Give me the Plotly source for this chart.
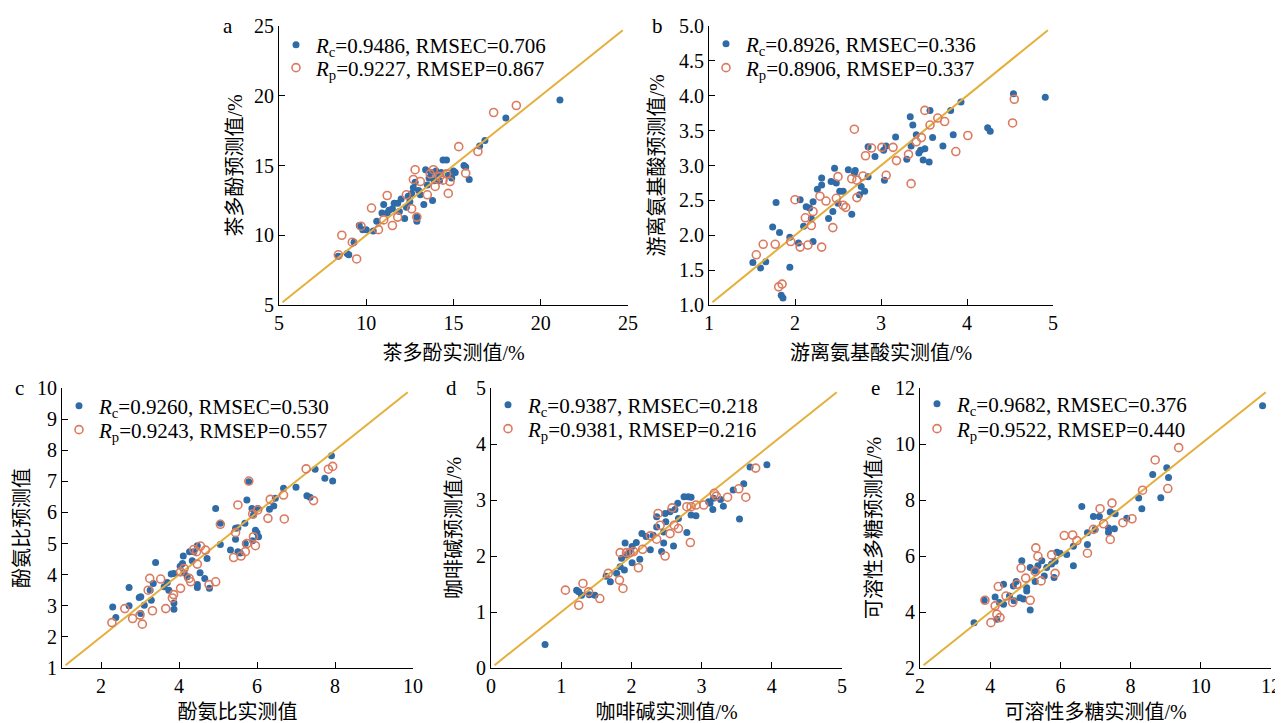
import plotly.graph_objects as go

# page is 1283x723; the html body adds an 8px margin, so the figure is drawn 8px in
PAGE_W, PAGE_H, OFF = 1283, 723, 8
W, H = PAGE_W - OFF, PAGE_H - OFF

# ---------------- data ----------------
# a: 茶多酚
a_cal_x = [8.4, 8.9, 9.0, 9.3, 9.6, 9.8, 10.0, 10.4, 10.6, 10.9, 11.0, 11.2, 11.3, 11.5, 11.6, 11.8, 11.9, 12.0,
           12.2, 12.3, 12.4, 12.5, 12.6, 12.7, 12.8, 12.9, 12.9, 13.0, 13.1, 13.3, 13.4, 13.5, 13.6, 13.7, 13.8,
           13.9, 14.0, 14.1, 14.2, 14.3, 14.4, 14.6, 14.7, 14.9, 15.0, 15.1, 15.6, 15.7, 15.9, 16.5, 16.8, 18.0, 21.1]
a_cal_y = [8.5, 8.7, 8.6, 9.5, 10.7, 10.4, 10.4, 10.3, 11.0, 11.6, 12.2, 11.6, 11.8, 11.9, 12.3, 12.3, 11.7, 12.6,
           11.2, 12.0, 12.8, 12.4, 13.0, 13.4, 13.8, 11.3, 11.0, 13.2, 12.9, 12.2, 14.7, 13.6, 14.1, 14.5, 12.5,
           13.9, 14.6, 14.2, 13.9, 14.5, 15.4, 15.4, 14.3, 14.1, 14.6, 14.5, 15.0, 14.9, 14.0, 16.4, 16.8, 18.4, 19.7]
a_val_x = [18.6, 17.3, 15.3, 16.4, 15.7, 14.7, 12.8, 12.7, 13.85, 13.66, 14.8, 14.4, 13.5, 11.2, 12.3, 10.3, 12.6,
           12.9, 11.0, 11.8, 11.5, 10.7, 9.7, 8.6, 9.2, 8.4, 9.45, 13.95, 14.2, 14.6, 13.1]
a_val_y = [19.3, 18.8, 16.35, 16.0, 14.45, 13.0, 14.7, 14.0, 14.7, 14.4, 13.85, 13.95, 12.9, 12.85, 12.9, 11.95, 11.9,
           11.3, 11.1, 11.3, 10.7, 10.4, 10.65, 10.0, 9.5, 8.6, 8.3, 13.5, 14.2, 14.4, 13.85]

# b: 游离氨基酸
b_cal_x = [4.54, 4.91, 3.93, 3.81, 3.57, 3.34, 3.37, 3.41, 3.84, 3.60, 4.24, 4.27, 3.72, 3.17, 3.35, 3.46, 3.51,
           3.44, 3.49, 3.56, 3.30, 3.06, 3.03, 3.04, 2.93, 2.85, 2.85, 2.77, 2.81, 2.75, 2.70, 2.69, 2.62, 2.66,
           2.46, 2.42, 2.48, 2.52, 2.56, 2.50, 2.44, 2.31, 2.31, 2.26, 2.39, 2.21, 2.13, 2.17, 2.19, 2.10, 2.06,
           2.21, 2.04, 1.94, 1.94, 1.78, 1.82, 1.74, 1.66, 1.60, 1.51, 1.84, 1.86]
b_cal_y = [4.03, 3.98, 3.91, 3.79, 3.79, 3.70, 3.58, 3.44, 3.44, 3.40, 3.54, 3.49, 3.28, 3.41, 3.28, 3.22, 3.24,
           3.18, 3.08, 3.05, 3.09, 3.28, 3.22, 2.79, 3.13, 3.27, 2.84, 2.70, 2.63, 2.58, 2.93, 2.89, 2.94, 2.30,
           2.96, 2.77, 2.75, 2.63, 2.63, 2.46, 2.34, 2.82, 2.72, 2.66, 2.24, 2.48, 2.41, 2.39, 2.24, 2.13, 2.51,
           1.91, 1.89, 1.97, 1.54, 2.47, 2.04, 2.12, 1.62, 1.53, 1.61, 1.14, 1.10]
b_val_x = [4.55, 4.53, 4.01, 3.87, 3.51, 3.66, 3.74, 3.57, 3.47, 3.41, 3.35, 3.32, 3.18, 3.14, 3.01, 3.06, 2.89,
           2.82, 2.79, 2.69, 2.66, 2.72, 2.72, 2.50, 2.48, 2.56, 2.59, 2.36, 2.29, 2.21, 2.19, 2.12, 2.44, 2.00,
           1.95, 2.06, 2.15, 2.31, 1.77, 1.63, 1.55, 1.81, 1.85]
b_val_y = [3.95, 3.61, 3.43, 3.20, 3.79, 3.68, 3.63, 3.58, 3.40, 3.34, 2.74, 3.16, 3.07, 3.26, 3.26, 2.86, 3.25,
           3.14, 2.85, 3.52, 2.81, 2.79, 2.54, 2.84, 2.53, 2.43, 2.40, 2.49, 2.56, 2.34, 2.14, 2.25, 2.11, 2.51,
           1.91, 1.83, 1.86, 1.83, 1.87, 1.87, 1.72, 1.26, 1.30]

# c: 酚氨比
c_cal_x = [7.91, 7.49, 7.74, 7.94, 7.28, 7.36, 7.00, 6.68, 6.47, 6.43, 6.32, 6.02, 5.87, 5.74, 5.79, 5.91, 5.96,
           6.04, 6.00, 5.69, 5.51, 5.45, 5.45, 5.70, 5.89, 5.32, 5.51, 5.57, 5.06, 4.94, 5.06, 4.72, 4.78, 4.66,
           4.54, 4.47, 4.47, 4.47, 4.38, 4.27, 4.34, 4.11, 4.09, 4.03, 4.13, 4.21, 3.87, 3.80, 3.70, 3.74, 3.87,
           3.87, 3.62, 3.40, 3.34, 3.26, 3.29, 3.11, 3.02, 2.98, 3.02, 2.72, 2.72, 2.30, 2.38]
c_cal_y = [7.82, 7.39, 7.10, 7.01, 6.54, 6.49, 6.81, 6.78, 6.46, 6.21, 6.10, 6.13, 6.13, 6.40, 6.99, 5.92, 5.43,
           5.22, 5.35, 5.65, 5.51, 5.49, 5.14, 5.00, 5.09, 4.79, 4.74, 4.70, 4.97, 6.13, 5.65, 4.52, 3.56, 3.88,
           4.06, 3.59, 3.68, 4.93, 4.74, 4.74, 4.45, 4.60, 4.36, 4.27, 4.06, 3.93, 4.04, 4.02, 3.75, 3.50, 3.09,
           2.89, 3.61, 4.39, 3.72, 3.50, 3.18, 3.02, 2.75, 3.27, 3.29, 3.59, 3.00, 2.96, 2.62]
c_val_x = [7.94, 7.83, 7.26, 7.45, 6.68, 6.34, 6.70, 6.28, 6.02, 5.89, 5.79, 5.51, 5.91, 5.96, 5.74, 5.70, 5.59,
           5.40, 5.45, 5.06, 4.94, 4.77, 4.68, 4.55, 4.45, 4.38, 4.47, 4.30, 4.26, 4.13, 4.04, 4.04, 3.86, 3.83,
           3.66, 3.53, 3.25, 3.21, 3.32, 3.06, 3.00, 2.81, 2.61, 2.28]
c_val_y = [7.48, 7.39, 7.40, 6.38, 6.56, 6.42, 5.79, 5.81, 6.08, 5.95, 7.01, 6.24, 5.22, 4.93, 5.00, 4.74, 4.60,
           4.55, 5.35, 5.62, 3.77, 3.68, 4.79, 4.92, 4.74, 4.81, 4.34, 3.77, 3.88, 4.20, 4.09, 3.56, 3.36, 3.25,
           2.91, 3.86, 3.88, 3.50, 2.84, 2.41, 2.70, 2.59, 2.91, 2.46]

# d: 咖啡碱
d_cal_x = [3.93, 3.69, 3.60, 3.45, 3.54, 3.31, 3.27, 3.17, 3.12, 3.16, 3.10, 2.92, 2.85, 2.85, 2.81, 2.75, 2.79,
           2.66, 2.62, 2.67, 2.55, 2.60, 2.48, 2.49, 2.46, 2.46, 2.43, 2.36, 2.36, 2.31, 2.21, 2.27, 2.15, 2.12,
           2.07, 2.01, 1.97, 2.01, 1.91, 1.93, 1.86, 1.84, 1.90, 1.79, 1.64, 1.70, 1.48, 1.40, 1.29, 1.22, 1.25, 0.77]
d_cal_y = [3.63, 3.59, 3.29, 3.18, 2.66, 2.89, 3.01, 3.03, 2.94, 2.83, 2.97, 2.72, 2.73, 3.05, 3.06, 3.06, 2.42,
           2.94, 2.83, 2.67, 2.79, 2.18, 2.76, 2.61, 2.43, 2.23, 2.08, 2.70, 2.52, 2.37, 2.35, 2.11, 2.40, 1.94,
           2.24, 2.17, 2.08, 1.88, 2.23, 2.02, 1.96, 1.81, 1.75, 1.69, 1.64, 1.54, 1.30, 1.31, 1.30, 1.39, 1.36, 0.42]
d_val_x = [3.77, 3.53, 3.63, 3.37, 3.18, 3.21, 3.03, 2.92, 2.85, 2.79, 2.84, 2.58, 2.67, 2.61, 2.41, 2.38, 2.55,
           2.48, 2.36, 2.27, 2.16, 2.10, 2.03, 1.98, 1.93, 1.84, 1.83, 1.88, 1.67, 1.55, 1.39, 1.31, 1.06, 1.25]
d_val_y = [3.57, 3.20, 3.05, 3.05, 3.12, 3.07, 2.91, 2.91, 2.88, 2.88, 2.24, 2.86, 2.49, 2.55, 2.55, 2.76, 2.40,
           2.00, 2.30, 2.36, 2.12, 1.79, 2.08, 2.06, 2.06, 2.06, 1.57, 1.42, 1.69, 1.24, 1.36, 1.51, 1.39, 1.12]

# e: 可溶性多糖
e_cal_x = [11.76, 9.03, 9.08, 8.63, 8.86, 8.23, 8.32, 7.89, 7.56, 7.42, 7.54, 7.37, 7.37, 7.11, 6.94, 6.61, 6.99,
           6.77, 6.77, 6.37, 6.37, 6.18, 5.90, 5.99, 5.85, 5.82, 5.75, 5.61, 5.54, 5.47, 5.36, 5.28, 5.28, 5.14,
           5.04, 5.04, 5.14, 4.90, 4.95, 4.85, 4.74, 4.66, 4.68, 4.55, 4.38, 4.38, 4.26, 4.19, 4.14, 3.83, 3.54]
e_cal_y = [11.37, 9.15, 8.80, 8.91, 8.08, 8.07, 7.69, 7.35, 7.51, 7.57, 6.97, 7.00, 6.85, 7.41, 7.41, 7.77, 6.95,
           6.83, 6.41, 6.35, 5.65, 6.05, 6.13, 6.10, 5.81, 5.23, 5.71, 5.59, 5.29, 5.83, 5.65, 5.47, 5.09, 5.59,
           4.75, 4.87, 4.07, 5.83, 4.46, 4.51, 5.09, 4.93, 4.40, 4.57, 4.99, 4.28, 4.34, 3.74, 4.54, 4.42, 3.62]
e_val_x = [9.37, 8.70, 9.06, 8.34, 7.47, 7.13, 8.04, 7.78, 7.23, 6.94, 7.42, 6.77, 6.35, 6.11, 6.47, 5.75, 5.85,
           5.30, 5.36, 5.45, 5.28, 5.01, 4.88, 5.14, 4.76, 4.64, 4.45, 4.23, 4.14, 4.28, 4.02, 3.85, 4.19]
e_val_y = [9.87, 9.43, 8.41, 8.35, 7.89, 7.69, 7.33, 7.19, 7.15, 6.95, 6.59, 6.10, 6.75, 6.73, 6.55, 6.04, 5.38,
           6.29, 5.99, 5.11, 5.45, 5.21, 5.57, 4.42, 4.99, 4.34, 4.57, 4.91, 4.22, 3.80, 3.62, 4.42, 3.92]

letters = ["a", "b", "c", "d", "e"]
x_titles = ["茶多酚实测值/%", "游离氨基酸实测值/%", "酚氨比实测值", "咖啡碱实测值/%", "可溶性多糖实测值/%"]
y_titles = ["茶多酚预测值/%", "游离氨基酸预测值/%", "酚氨比预测值", "咖啡碱预测值/%", "可溶性多糖预测值/%"]
rc_vals = ["0.9486", "0.8926", "0.9260", "0.9387", "0.9682"]
rmsec_vals = ["0.706", "0.336", "0.530", "0.218", "0.376"]
rp_vals = ["0.9227", "0.8906", "0.9243", "0.9381", "0.9522"]
rmsep_vals = ["0.867", "0.337", "0.557", "0.216", "0.440"]

x_ranges = [[5, 25], [1, 5], [1, 10], [0, 5], [2, 12]]
y_ranges = [[5, 25], [1, 5], [1, 10], [0, 5], [2, 12]]
x_ticks = [[5, 10, 15, 20, 25], [1, 2, 3, 4, 5], [2, 4, 6, 8, 10], [0, 1, 2, 3, 4, 5], [2, 4, 6, 8, 10, 12]]
y_ticks = [[5, 10, 15, 20, 25], [1.0, 1.5, 2.0, 2.5, 3.0, 3.5, 4.0, 4.5, 5.0], [1, 2, 3, 4, 5, 6, 7, 8, 9, 10],
           [0, 1, 2, 3, 4, 5], [2, 4, 6, 8, 10, 12]]
y_fmt = ["d", ".1f", "d", "d", "d"]

cal_x = [a_cal_x, b_cal_x, c_cal_x, d_cal_x, e_cal_x]
cal_y = [a_cal_y, b_cal_y, c_cal_y, d_cal_y, e_cal_y]
val_x = [a_val_x, b_val_x, c_val_x, d_val_x, e_val_x]
val_y = [a_val_y, b_val_y, c_val_y, d_val_y, e_val_y]

# ---------------- layout geometry (page pixels) ----------------
boxes = [(279, 628, 26, 305), (709, 1053, 26, 305), (62, 413, 388, 668), (491, 842, 388, 668), (920, 1271, 388, 668)]
letter_pos = [(228, 26), (657, 26), (20, 388), (451, 388), (875, 388)]
legend_rows = [(45, 68), (44, 68), (406, 430), (405, 429), (404, 429)]
ytitle_standoff = [5, 8, 1, 8, 7]


def px(x):
    return (x - OFF) / W


def py(y):
    return 1 - (y - OFF) / H


BLUE = "#2F6BA6"
ORANGE = "#DB7A5E"
GOLD = "#E5AF3C"
SERIF = "Liberation Serif, Times New Roman, serif"
MIXED = "Liberation Serif, Noto Sans CJK SC, serif"

fig = go.Figure()
layout = dict(width=W, height=H, margin=dict(l=0, r=0, t=0, b=0, autoexpand=False),
              plot_bgcolor="white", paper_bgcolor="white", showlegend=True, annotations=[])

for i in range(5):
    n = i + 1
    sfx = "" if n == 1 else str(n)
    xa, ya = "x" + sfx, "y" + sfx
    lg_c = "legend" + ("" if i == 0 else str(2 * i + 1))
    lg_v = "legend" + str(2 * i + 2)
    x0, x1, yt, yb = boxes[i]

    fig.add_trace(go.Scatter(
        x=cal_x[i], y=cal_y[i], mode="markers", xaxis=xa, yaxis=ya, legend=lg_c,
        name=f"<i>R</i><sub>c</sub>={rc_vals[i]}, RMSEC={rmsec_vals[i]}",
        marker=dict(color=BLUE, size=7, line=dict(width=0))))
    lo, hi = x_ranges[i]
    span = hi - lo
    lx = [lo + 0.01 * span, hi - 0.015 * span]
    fig.add_trace(go.Scatter(
        x=lx, y=lx, mode="lines", xaxis=xa, yaxis=ya, showlegend=False,
        line=dict(color=GOLD, width=2), hoverinfo="skip"))
    fig.add_trace(go.Scatter(
        x=val_x[i], y=val_y[i], mode="markers", xaxis=xa, yaxis=ya, legend=lg_v,
        name=f"<i>R</i><sub>p</sub>={rp_vals[i]}, RMSEP={rmsep_vals[i]}",
        marker=dict(symbol="circle-open", color=ORANGE, size=8, line=dict(width=1.6, color=ORANGE))))

    axis_common = dict(showline=True, linecolor="black", linewidth=1.2, ticks="inside", ticklen=6,
                       tickwidth=1.2, tickcolor="black", showgrid=False, zeroline=False, automargin=False,
                       tickfont=dict(family=SERIF, size=20, color="black"))
    layout["xaxis" + sfx] = dict(domain=[px(x0), px(x1)], range=x_ranges[i], anchor=ya,
                                 tickvals=x_ticks[i],
                                 title=dict(text=x_titles[i], font=dict(family=MIXED, size=20, color="black"),
                                            standoff=12),
                                 **axis_common)
    layout["yaxis" + sfx] = dict(domain=[py(yb), py(yt)], range=y_ranges[i], anchor=xa,
                                 tickvals=y_ticks[i], tickformat=y_fmt[i],
                                 title=dict(text=y_titles[i], font=dict(family=MIXED, size=20, color="black"),
                                            standoff=ytitle_standoff[i]),
                                 **axis_common)
    r1, r2 = legend_rows[i]
    for lg, ry in ((lg_c, r1), (lg_v, r2)):
        layout[lg] = dict(x=px(x0 - 3), y=py(ry), xanchor="left", yanchor="middle",
                          bgcolor="rgba(0,0,0,0)", borderwidth=0, itemwidth=30,
                          font=dict(family=SERIF, size=21, color="black"))
    lx_, ly_ = letter_pos[i]
    layout["annotations"].append(dict(text=letters[i], x=px(lx_), y=py(ly_), xref="paper", yref="paper",
                                      showarrow=False, xanchor="center", yanchor="middle",
                                      font=dict(family=SERIF, size=21, color="black")))

fig.update_layout(**layout)
fig.write_html("out.html")
